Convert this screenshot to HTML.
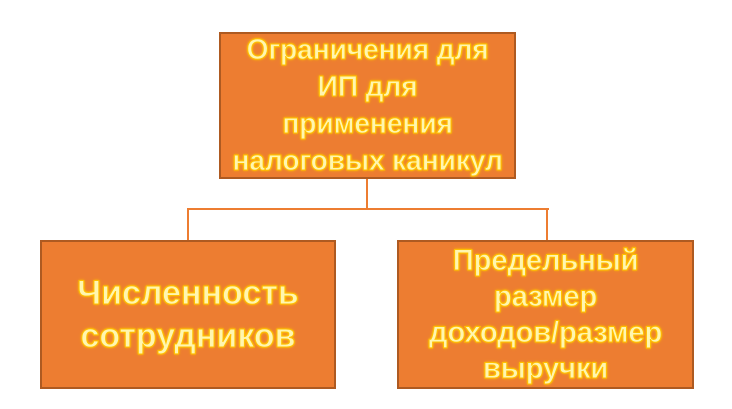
<html><head><style>
body{margin:0;width:732px;height:409px;background:#fff;position:relative;overflow:hidden}
.b{position:absolute;box-sizing:border-box;background:#ed7d31;border:2px solid #ae5a21;display:flex;align-items:center;justify-content:center;text-align:center;font-family:"Liberation Sans",sans-serif;font-weight:bold;color:#fff6b0;-webkit-text-stroke:1px #ffc000;text-shadow:0 0 2px #ffc000,0 0 3px #ffc000;white-space:nowrap}
.l{position:absolute;background:#ed7d31}
</style></head><body>
<div class="l" style="left:366px;top:178px;width:2px;height:32px"></div>
<div class="l" style="left:187px;top:208px;width:362px;height:2px"></div>
<div class="l" style="left:187px;top:208px;width:2px;height:33px"></div>
<div class="l" style="left:546px;top:208px;width:2px;height:33px"></div>
<div class="b" style="left:219px;top:32px;width:297px;height:147px;font-size:28.5px;line-height:37px;letter-spacing:-0.3px">Ограничения для<br>ИП для<br>применения<br>налоговых каникул</div>
<div class="b" style="left:40px;top:240px;width:296px;height:149px;font-size:34px;line-height:43px">Численность<br>сотрудников</div>
<div class="b" style="left:397px;top:240px;width:297px;height:149px;font-size:29.5px;line-height:36px;letter-spacing:-0.3px">Предельный<br>размер<br>доходов/размер<br>выручки</div>
</body></html>
